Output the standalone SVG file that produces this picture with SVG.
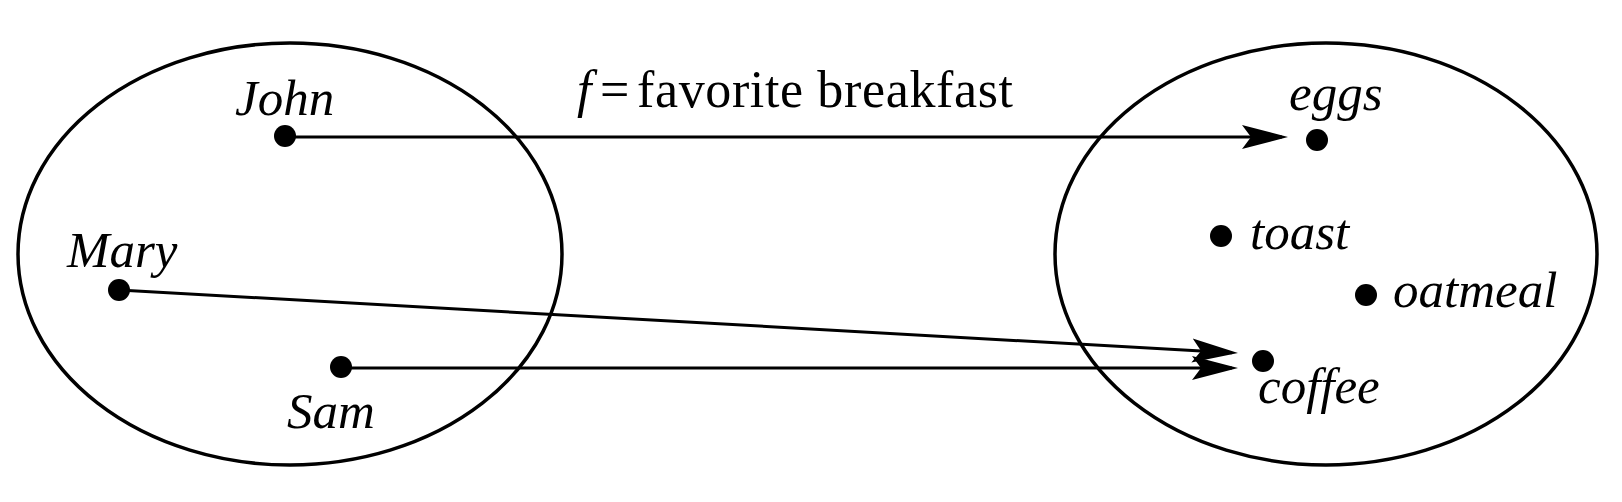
<svg xmlns="http://www.w3.org/2000/svg" width="1622" height="502" viewBox="0 0 1622 502">
<style>
.set{fill:none;stroke:#000;stroke-width:3.5}
.dot{fill:#000}
.lbl{font-family:"Liberation Serif","Times New Roman",serif;font-style:italic;font-size:51px;fill:#000}
.ttl{font-family:"Liberation Serif","Times New Roman",serif;font-size:52px;fill:#000}
.arr{fill:none;stroke:#000;stroke-width:3}
</style>
<defs>
<marker id="ah" markerUnits="userSpaceOnUse" viewBox="0 0 46 26" markerWidth="46" markerHeight="26" refX="40" refY="13" orient="auto">
<path d="M0,1 L46,13 L0,25 L9,13 Z" fill="#000"/>
</marker>
</defs>
<rect width="1622" height="502" fill="#fff"/>
<g id="domain">
<ellipse class="set" cx="290" cy="254" rx="272" ry="211"/>
</g>
<g id="codomain">
<ellipse class="set" cx="1326" cy="254" rx="271" ry="211"/>
</g>
<g id="john"><circle class="dot" cx="285" cy="136" r="11"/><text class="lbl" x="235" y="115">John</text></g>
<g id="mary"><circle class="dot" cx="119" cy="290" r="11"/><text class="lbl" x="67" y="267">Mary</text></g>
<g id="sam"><circle class="dot" cx="341" cy="367" r="11"/><text class="lbl" x="287" y="428">Sam</text></g>
<g id="eggs"><circle class="dot" cx="1317" cy="140" r="11"/><text class="lbl" x="1289" y="110">eggs</text></g>
<g id="toast"><circle class="dot" cx="1221" cy="236" r="11"/><text class="lbl" x="1250" y="249">toast</text></g>
<g id="oatmeal"><circle class="dot" cx="1366" cy="295" r="11"/><text class="lbl" x="1393" y="307">oatmeal</text></g>
<g id="coffee"><circle class="dot" cx="1263" cy="361" r="11"/><text class="lbl" x="1258" y="403">coffee</text></g>
<g id="connectors">
<line class="arr" x1="285" y1="137" x2="1282" y2="137" marker-end="url(#ah)"/>
<line class="arr" x1="119" y1="290" x2="1232" y2="352.7" marker-end="url(#ah)"/>
<line class="arr" x1="341" y1="368" x2="1232" y2="368" marker-end="url(#ah)"/>
</g>
<g id="title">
<text class="ttl" x="577" y="107"><tspan font-style="italic">f</tspan><tspan x="600">=</tspan><tspan x="637" textLength="376">favorite breakfast</tspan></text>
</g>
</svg>
